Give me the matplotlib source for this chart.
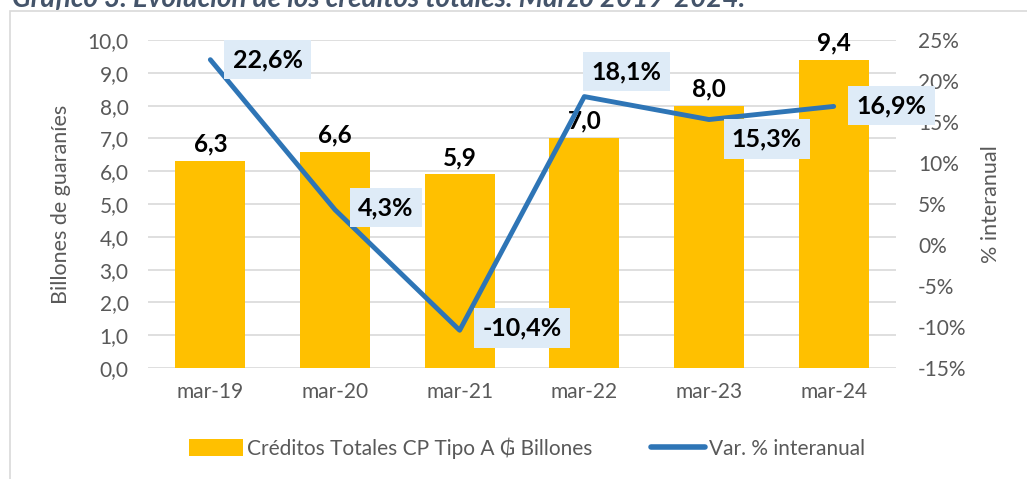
import matplotlib.pyplot as plt
from matplotlib.patches import Rectangle, Patch
from matplotlib.lines import Line2D

categories = ["mar-19", "mar-20", "mar-21", "mar-22", "mar-23", "mar-24"]
creditos = [6.3, 6.6, 5.9, 7.0, 8.0, 9.4]
var_pct = [22.6, 4.3, -10.4, 18.1, 15.3, 16.9]
left_ticks = [0, 1, 2, 3, 4, 5, 6, 7, 8, 9, 10]
right_ticks = [-15, -10, -5, 0, 5, 10, 15, 20, 25]

# label offsets (points) for the line labels
pct_offsets = [(16, 0), (16.5, 1.5), (16.5, 1.5), (5, 18), (16.5, -14), (16.5, 0.5)]

FONT = ["Lato", "DejaVu Sans"]
plt.rcParams['font.family'] = FONT
GRAY = "#595959"

fig = plt.figure(figsize=(10.27, 4.79), dpi=100)
fig.patches.append(Rectangle((10/1027, -0.01), 1.1, 1 - 11/479 + 0.01, transform=fig.transFigure,
                             fill=False, edgecolor="#D9D9D9", linewidth=1.2, zorder=0))
fig.text(12/1027, 1 - 7/479, "Gráfico 3. Evolución de los créditos totales. Marzo 2019-2024.",
         fontsize=20, fontweight="bold", style="italic", color="#44546A", va="baseline", ha="left")

ax = fig.add_axes([148/1027, 1 - 368/479, (896 - 148)/1027, (368 - 40)/479])
x = list(range(len(categories)))
ax.bar(x, creditos, width=0.56, color="#FFC000", zorder=2)
ax.set_ylim(0, 10)
ax.set_xlim(-0.5, len(categories) - 0.5)
ax.set_yticks(left_ticks)
ax.set_yticklabels([f"{v:.1f}".replace(".", ",") for v in left_ticks])
ax.set_xticks(x)
ax.set_xticklabels(categories)
ax.grid(axis="y", color="#D9D9D9", linewidth=1.2, zorder=0)
ax.set_axisbelow(True)
for s in ax.spines.values():
    s.set_visible(False)
ax.tick_params(length=0, labelsize=15, colors=GRAY, pad=14)
ax.tick_params(axis="x", pad=10)
ax.set_ylabel("Billones de guaraníes", fontsize=15.5, color=GRAY, labelpad=12)

for xi, v in zip(x, creditos):
    ax.annotate(f"{v:.1f}".replace(".", ","), (xi, v), xytext=(0, 4), textcoords="offset points",
                ha="center", va="bottom", fontsize=17.5, fontweight="bold", color="black", zorder=5)

ax2 = ax.twinx()
ax2.plot(x, var_pct, color="#2E75B6", linewidth=3.5, solid_capstyle="round", zorder=3)
ax2.set_ylim(-15, 25)
ax2.set_yticks(right_ticks)
ax2.set_yticklabels([f"{v}%" for v in right_ticks])
for s in ax2.spines.values():
    s.set_visible(False)
ax2.tick_params(length=0, labelsize=15, colors=GRAY, pad=16)
ax2.set_ylabel("% interanual", fontsize=15.5, color=GRAY, labelpad=10)

for xi, v, off in zip(x, var_pct, pct_offsets):
    ax2.annotate(f"{v:.1f}%".replace(".", ","), (xi, v), xytext=off, textcoords="offset points",
                 ha="left", va="center", fontsize=18, fontweight="bold", color="black", zorder=6,
                 bbox=dict(boxstyle="square,pad=0.33", facecolor="#DEEBF7", edgecolor="none"))

handles = [Patch(facecolor="#FFC000", label="Créditos Totales CP Tipo A ₲ Billones"),
           Line2D([0], [0], color="#2E75B6", linewidth=4, solid_capstyle="round", label="Var. % interanual")]
fig.legend(handles=handles, loc="center", bbox_to_anchor=(0.513, 1 - 448/479), ncol=2, frameon=False,
           fontsize=15, labelcolor=GRAY, handlelength=2.6, handletextpad=0.2, columnspacing=2.8,
           handleheight=0.9)

fig.savefig("out.png", dpi=100)
